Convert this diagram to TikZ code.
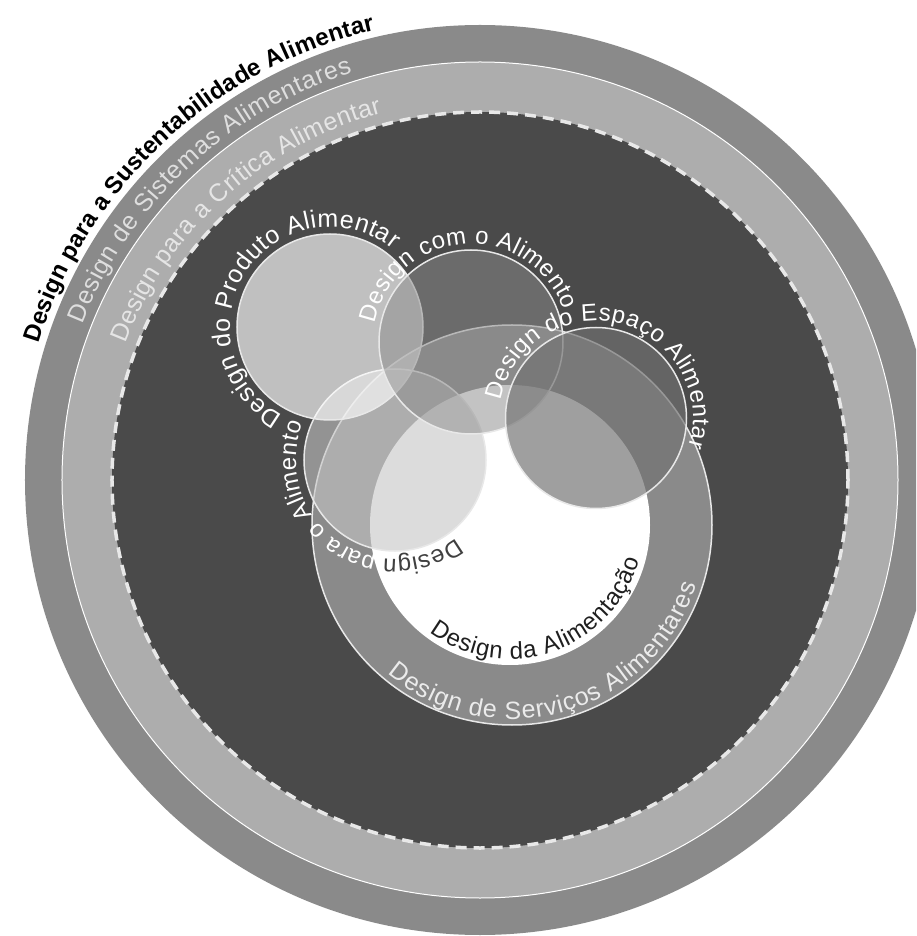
\documentclass[tikz,border=0pt]{standalone}
\usepackage{fontspec}
\setmainfont{Liberation Sans}
\usetikzlibrary{decorations.text,calc}
\definecolor{bandgray}{HTML}{8A8A8A}
\definecolor{ringgray}{HTML}{ADADAD}
\definecolor{coregray}{HTML}{4A4A4A}
\definecolor{servgray}{HTML}{8A8A8A}
\definecolor{paragray}{HTML}{C5C5C5}
\definecolor{prodgray}{HTML}{FAFAFA}
\definecolor{comgray}{HTML}{8B8B8B}
\definecolor{espgray}{HTML}{717171}
\definecolor{linegray}{HTML}{E8E8E8}

\begin{document}
\begin{tikzpicture}[x=1pt, y=1pt,
  disc/.style={circle, inner sep=0pt, outer sep=0pt, minimum size=#1},
  bubble/.style={circle, inner sep=0pt, outer sep=0pt, draw=linegray, line width=1.5pt, minimum size=#1},
  arclabel/.style={decorate, decoration={text along path, text align={fit to path}, text={#1}}}
]

\useasboundingbox (-480,-456) rectangle (436,480);
\clip (-480,-456) rectangle (436,480);

% outer rings
\node[disc=910pt, fill=bandgray] (sust) at (0,0) {};
\node[disc=836pt, fill=ringgray, draw=white, line width=1pt] (sist) at (0,0) {};
\node[disc=736pt, fill=coregray, draw=linegray, line width=3.5pt, dash pattern=on 11pt off 7pt] (crit) at (0,0) {};

% inner circles
\node[bubble=400pt, fill=servgray] (serv) at (32,-45) {};
\node[disc=280pt, fill=white] (alim) at (30,-45) {};
\node[bubble=182pt, fill=paragray, fill opacity=0.6] (para) at (-85,20) {};
\node[bubble=186pt, fill=prodgray, fill opacity=0.67] (prod) at (-150,153) {};
\node[bubble=184pt, fill=comgray, fill opacity=0.51] (com) at (-9,138) {};
\node[bubble=181pt, fill=espgray, fill opacity=0.67] (esp) at (116,62) {};

% ring labels
\path[arclabel={|\fontsize{24}{24}\selectfont\bfseries|Design para a Sustentabilidade Alimentar}, decoration={text color=black}]
  ($(sust)+(162.8:462)$) arc[start angle=162.8, end angle=103.2, radius=462];
\path[arclabel={|\fontsize{25}{25}\selectfont|Design de Sistemas Alimentares}, decoration={text color=white!87!black}]
  ($(sist)+(158.6:427)$) arc[start angle=158.6, end angle=107.4, radius=427];
\path[arclabel={|\fontsize{25}{25}\selectfont|Design para a Crítica Alimentar}, decoration={text color=white!90!black}]
  ($(crit)+(159:380)$) arc[start angle=159, end angle=105, radius=380];

% circle labels
\path[arclabel={|\fontsize{25}{25}\selectfont|Design do Produto Alimentar}, decoration={text color=white}]
  ($(prod)+(242:100)$) arc[start angle=242, end angle=51, radius=100];
\path[arclabel={|\fontsize{24}{24}\selectfont|Design com o Alimento}, decoration={text color=white}]
  ($(com)+(169:98)$) arc[start angle=169, end angle=19, radius=98];
\path[arclabel={|\fontsize{24}{24}\selectfont|Design do Espaço Alimentar}, decoration={text color=white}]
  ($(esp)+(169.5:97)$) arc[start angle=169.5, end angle=-17.5, radius=97];
\path[arclabel={|\fontsize{24}{24}\selectfont\color{black!75}|Design |\fontsize{24}{24}\selectfont\color{white}|para o Alimento}]
  ($(para)+(308:99)$) arc[start angle=308, end angle=158, radius=99];
\path[arclabel={|\fontsize{24}{24}\selectfont|Design da Alimentação}, decoration={text color=black!88}]
  ($(alim)+(233:134)$) arc[start angle=233, end angle=345, radius=134];
\path[arclabel={|\fontsize{25}{25}\selectfont|Design de Serviços Alimentares}, decoration={text color=white!92!black}]
  ($(serv)+(230:194)$) arc[start angle=230, end angle=342, radius=194];

\end{tikzpicture}
\end{document}
